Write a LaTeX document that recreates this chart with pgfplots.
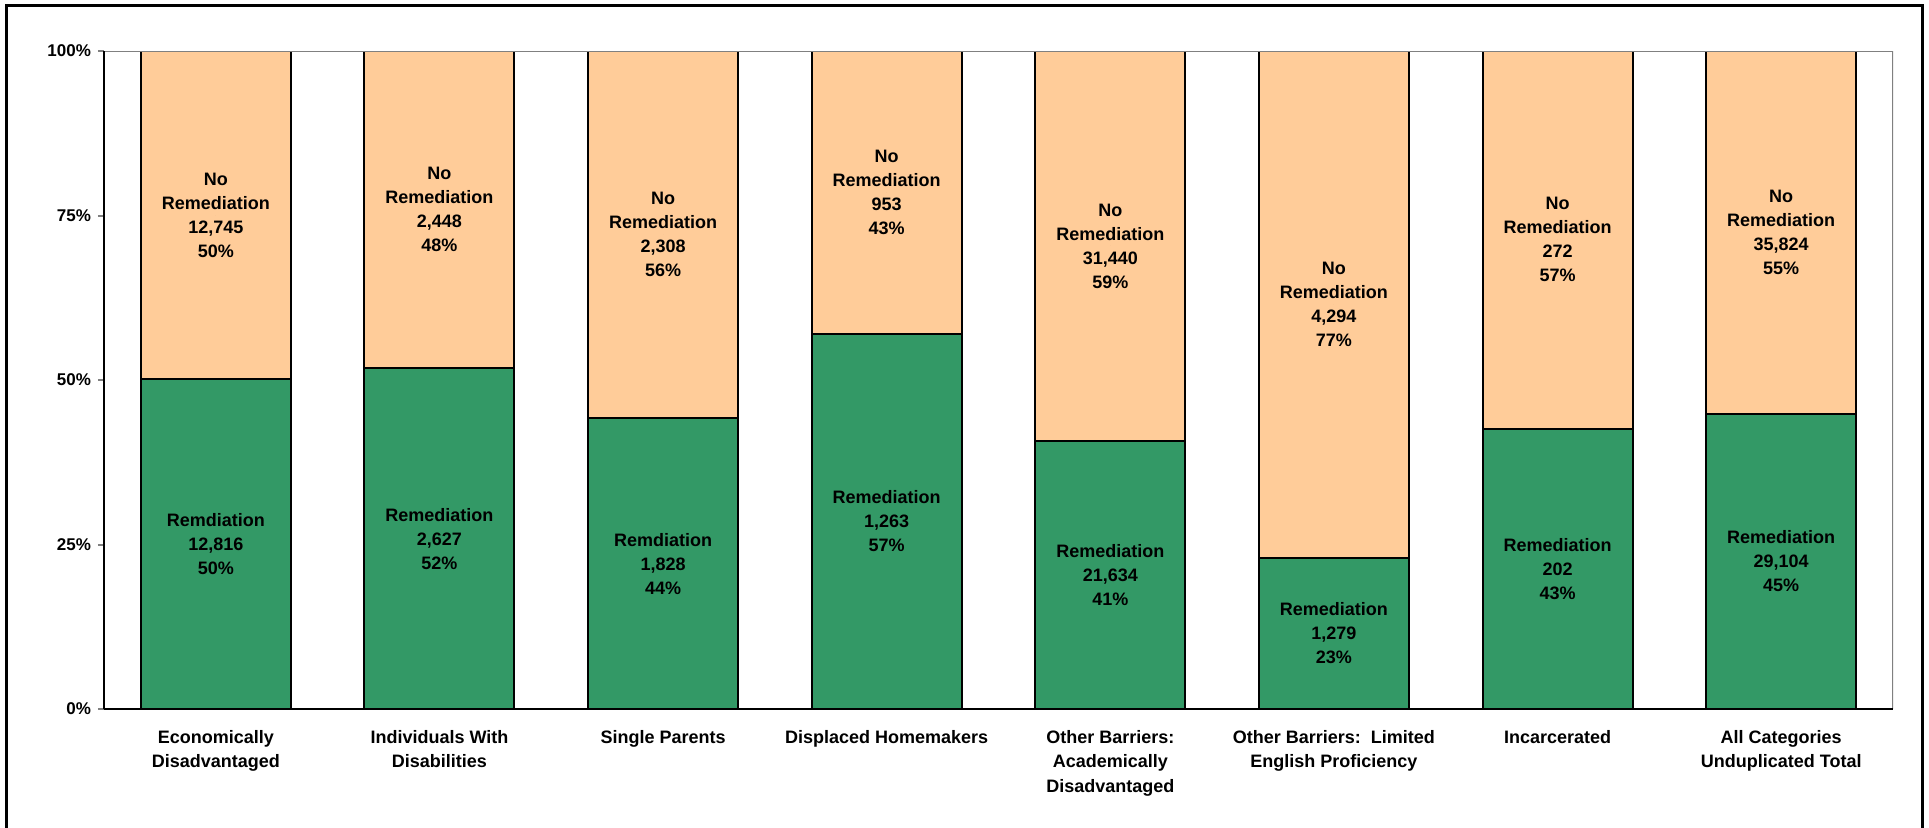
\documentclass[border=0pt]{standalone}
\usepackage{pgfplots}
\pgfplotsset{compat=1.18}
\usepackage{pgfplotstable}
\usepackage{fontspec}
\setmainfont{Liberation Sans}

\definecolor{remgreen}{HTML}{339966}
\definecolor{norempeach}{HTML}{FFCC99}

% shares in percent, labels as printed in the bars
\pgfplotstableread{
x rem norem remlab norlab
0 50.14 49.86 {Remdiation\\12,816\\50\%} {No\\Remediation\\12,745\\50\%}
1 51.76 48.24 {Remediation\\2,627\\52\%} {No\\Remediation\\2,448\\48\%}
2 44.20 55.80 {Remdiation\\1,828\\44\%} {No\\Remediation\\2,308\\56\%}
3 56.99 43.01 {Remediation\\1,263\\57\%} {No\\Remediation\\953\\43\%}
4 40.76 59.24 {Remediation\\21,634\\41\%} {No\\Remediation\\31,440\\59\%}
5 22.95 77.05 {Remediation\\1,279\\23\%} {No\\Remediation\\4,294\\77\%}
6 42.62 57.38 {Remediation\\202\\43\%} {No\\Remediation\\272\\57\%}
7 44.82 55.18 {Remediation\\29,104\\45\%} {No\\Remediation\\35,824\\55\%}
}\datatable

\pgfplotsset{
  chartbox/.style={scale only axis, width=894.5pt, height=329pt,
    xmin=-0.5, xmax=7.5, ymin=0, ymax=100},
}

\begin{document}
\begin{tikzpicture}
\begin{axis}[
  name=main, chartbox,
  ybar stacked, bar width=75pt,
  axis x line*=bottom, axis y line*=left,
  axis line style={line width=1pt},
  axis on top,
  xtick={0,...,7},
  xticklabels={{Economically\\Disadvantaged},{Individuals With\\Disabilities},
    {Single Parents},{Displaced Homemakers},
    {Other Barriers:\\Academically\\Disadvantaged},
    {Other Barriers:\ \ Limited\\English Proficiency},
    {Incarcerated},{All Categories\\Unduplicated Total}},
  xticklabel style={align=center, font=\fontsize{9}{12.3}\selectfont\bfseries, yshift=-7pt},
  major x tick style={draw=none},
  ytick={0,25,50,75,100},
  yticklabels={0\%,25\%,50\%,75\%,100\%},
  yticklabel style={font=\fontsize{8.5}{10}\selectfont\bfseries},
  ytick align=outside, ytick pos=left, major tick length=3pt,
  major y tick style={line width=1pt},
]
\draw[gray, line width=0.8pt] (rel axis cs:0,1) -- (rel axis cs:1,1) -- (rel axis cs:1,0);
\addplot[fill=remgreen, draw=black, line width=1pt] table[x=x, y=rem]{\datatable};
\addplot[fill=norempeach, draw=black, line width=1pt] table[x=x, y=norem]{\datatable};
\draw[gray, line width=1pt, yshift=-1pt, xshift=1pt] (rel axis cs:0,0) -- (rel axis cs:1,0);
\end{axis}

\begin{axis}[
  chartbox, hide axis, clip=false,
  every node near coord/.append style={align=center, black,
    font=\fontsize{9}{12}\selectfont\bfseries},
]
\addplot[only marks, mark=*, mark size=0pt, mark options={draw=none, fill=none},
  point meta=explicit symbolic,
  nodes near coords, nodes near coords align=center]
  table[x=x, y expr=\thisrow{rem}/2, meta=remlab]{\datatable};
\addplot[only marks, mark=*, mark size=0pt, mark options={draw=none, fill=none},
  point meta=explicit symbolic,
  nodes near coords, nodes near coords align=center]
  table[x=x, y expr=\thisrow{rem}+\thisrow{norem}/2, meta=norlab]{\datatable};
\end{axis}

\draw[line width=1.5pt] ([shift={(-48.5pt,-62pt)}]main.south west)
  |- ([shift={(909pt,352pt)}]main.south west)
  -- ([shift={(909pt,-62pt)}]main.south west);
\pgfresetboundingbox
\path[use as bounding box] ([shift={(-52pt,-59pt)}]main.south west)
  rectangle ([shift={(912.5pt,354.5pt)}]main.south west);
\end{tikzpicture}
\end{document}
